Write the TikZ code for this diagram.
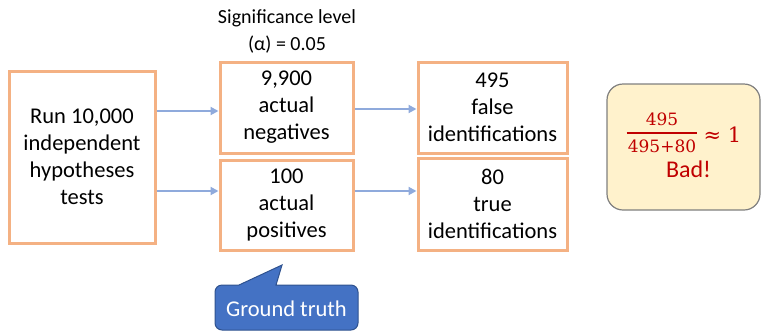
\documentclass[tikz,border=0pt]{standalone}
\usepackage{fontspec}
\setmainfont{Carlito}
\newfontfamily\dvserif{DejaVu Serif}
\usetikzlibrary{arrows.meta,calc}
\definecolor{boxor}{HTML}{F4B183}
\definecolor{arr}{HTML}{8FAADC}
\definecolor{callb}{HTML}{4472C4}
\definecolor{callline}{HTML}{2F528F}
\definecolor{note}{HTML}{FFF2CC}
\definecolor{noteline}{HTML}{7F7F7F}
\definecolor{darkred}{HTML}{C00000}
\begin{document}
\begin{tikzpicture}[x=1pt,y=-1pt,
  box/.style={draw=boxor, line width=3pt, align=center, font=\fontsize{22.5}{27}\selectfont, inner sep=0pt},
  conn/.style={draw=arr, line width=2.5pt, -{Triangle[length=8pt,width=8pt]}},
  lbl/.style={align=center, font=\fontsize{20}{27}\selectfont, inner sep=0pt},
  mth/.style={inner sep=0pt, text=darkred, anchor=base}]
\useasboundingbox (0,0) rectangle (763,333);
\node[box, minimum width=146, minimum height=172] (run) at (82,157) {Run 10,000\\independent\\hypotheses\\tests};
\node[box, minimum width=133, minimum height=91] (neg) at (286.5,107.5) {9,900\\actual\\negatives};
\node[box, minimum width=133, minimum height=90] (pos) at (286.5,205) {100\\actual\\positives};
\node[box, minimum width=149, minimum height=91] (fid) at (492.5,107.5) {495\\false\\identifications};
\node[box, minimum width=149, minimum height=92] (tid) at (492.5,204) {80\\true\\identifications};
\node[lbl] (sig) at (287,31) {Significance level\\(α) = 0.05};
\draw[conn] (run.east |- 0,111) -- (neg.west |- 0,111);
\draw[conn] (run.east |- 0,191) -- (pos.west |- 0,191);
\draw[conn] (neg.east |- 0,109) -- (fid.west |- 0,109);
\draw[conn] (pos.east |- 0,191) -- (tid.west |- 0,191);
\node[draw=noteline, line width=1.2pt, fill=note, rounded corners=16pt, minimum width=153, minimum height=126] (note) at (683.5,147) {};
\node[mth, font=\dvserif\fontsize{17}{17}\selectfont] (num) at (662,125) {495};
\node[mth, font=\dvserif\fontsize{17}{17}\selectfont] (den) at (662,152) {495+80};
\draw[darkred, line width=1.6pt] ([xshift=-1pt]den.west |- 0,133) -- ([xshift=1pt]den.east |- 0,133);
\node[mth, font=\dvserif\fontsize{21}{21}\selectfont] (approx) at (722.5,142) {≈ 1};
\node[inner sep=0pt, text=darkred, font=\fontsize{24}{24}\selectfont] (bad) at (688.5,169) {Bad!};
\draw[fill=callb, draw=callline, line width=1pt] (239,285) -- (282,265) -- (276,285) [rounded corners=7pt] -- (358,285) -- (358,330) -- (215,330) -- (215,285) [sharp corners] -- cycle;
\node[inner sep=0pt, text=white, font=\fontsize{22.5}{22.5}\selectfont] (gt) at (286.5,309) {Ground truth};
\end{tikzpicture}
\end{document}
